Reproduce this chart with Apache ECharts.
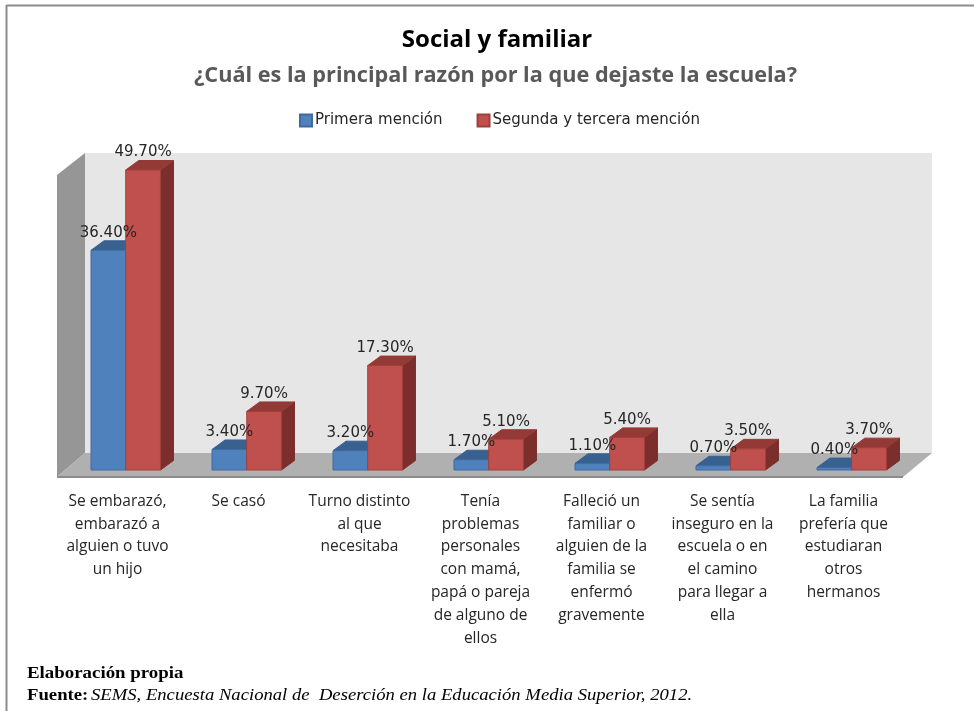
<!DOCTYPE html>
<html>
<head>
<meta charset="utf-8">
<style>html,body{margin:0;padding:0;background:#fff}#c{width:974px;height:711px}</style>
<script src="https://cdn.jsdelivr.net/npm/echarts@6/dist/echarts.min.js"></script>
</head>
<body>
<div id="c"></div>
<script>
const categories = [
  "Se embarazó,\nembarazó a\nalguien o tuvo\nun hijo",
  "Se casó",
  "Turno distinto\nal que\nnecesitaba",
  "Tenía\nproblemas\npersonales\ncon mamá,\npapá o pareja\nde alguno de\nellos",
  "Falleció un\nfamiliar o\nalguien de la\nfamilia se\nenfermó\ngravemente",
  "Se sentía\ninseguro en la\nescuela o en\nel camino\npara llegar a\nella",
  "La familia\nprefería que\nestudiaran\notros\nhermanos"
];
const primera = [36.4, 3.4, 3.2, 1.7, 1.1, 0.7, 0.4];
const segunda = [49.7, 9.7, 17.3, 5.1, 5.4, 3.5, 3.7];
const seriesNames = ["Primera mención", "Segunda y tercera mención"];

const DEPTH_X = 13, DEPTH_Y = 9.5;

function barRenderer(startFrac, widthFrac, colors) {
  return function (params, api) {
    const cat = api.value(0), val = api.value(1);
    const top = api.coord([cat, val]);
    const base = api.coord([cat, 0]);
    const band = api.size([1, 0])[0];
    const x0 = top[0] + band * startFrac;
    const x1 = x0 + band * widthFrac;
    const yT = top[1], yB = base[1];
    const dx = DEPTH_X, dy = DEPTH_Y;
    return {
      type: 'group',
      children: [
        { type: 'polygon', shape: { points: [[x1, yT], [x1 + dx, yT - dy], [x1 + dx, yB - dy], [x1, yB]] },
          style: { fill: colors.side, stroke: colors.side, lineWidth: 1 } },
        { type: 'polygon', shape: { points: [[x0, yT], [x0 + dx, yT - dy], [x1 + dx, yT - dy], [x1, yT]] },
          style: { fill: colors.top, stroke: colors.top, lineWidth: 1 } },
        { type: 'rect', shape: { x: x0, y: yT, width: x1 - x0, height: yB - yT },
          style: { fill: colors.front, stroke: colors.edge, lineWidth: 1 } }
      ]
    };
  };
}
function labelRenderer(startFrac, widthFrac) {
  return function (params, api) {
    const cat = api.value(0), val = api.value(1);
    const top = api.coord([cat, val]);
    const band = api.size([1, 0])[0];
    return {
      type: 'text',
      style: {
        x: top[0] + band * (startFrac + widthFrac / 2),
        y: top[1] - 17.5,
        text: val.toFixed(2) + '%',
        align: 'center', verticalAlign: 'middle',
        font: '15px "DejaVu Sans"', fill: '#262626'
      }
    };
  };
}
const blue = { front: '#4f81bd', edge: '#3f6b9f', side: '#2f4f7a', top: '#38618f' };
const red  = { front: '#c0504d', edge: '#a23f3c', side: '#7b2e2c', top: '#933a37' };
const BLUE_START = -0.219, BAR_W = 0.287, RED_START = 0.068;

const chart = echarts.init(document.getElementById('c'), null, { renderer: 'canvas' });
chart.setOption({
  animation: false,
  backgroundColor: '#ffffff',
  title: [
    { text: 'Social y familiar', left: 492, textAlign: 'center', top: 23,
      textStyle: { fontFamily: 'Open Sans', fontWeight: 'bold', fontSize: 24, color: '#000' } },
    { text: '¿Cuál es la principal razón por la que dejaste la escuela?', left: 490.5, textAlign: 'center', top: 60,
      textStyle: { fontFamily: 'Open Sans', fontWeight: 'bold', fontSize: 21.7, color: '#595959' } }
  ],
  legend: {
    data: seriesNames, left: 294, top: 108, itemWidth: 12, itemHeight: 12, itemGap: 34, icon: 'rect',
    textStyle: { fontFamily: 'DejaVu Sans', fontSize: 15, color: '#262626', padding: [0, 0, 0, -2] }
  },
  grid: { left: 57, width: 847, top: 168.2, height: 301.8 },
  xAxis: {
    type: 'category', data: categories,
    axisLine: { show: false }, axisTick: { show: false },
    axisLabel: { interval: 0, margin: 20, fontFamily: 'Open Sans', fontSize: 15.5, lineHeight: 22.8, color: '#262626', verticalAlign: 'top' }
  },
  yAxis: { type: 'value', min: 0, max: 50, show: false },
  graphic: [
    { type: 'rect', z: 0, shape: { x: 85, y: 153, width: 847, height: 300 }, style: { fill: '#e6e6e6' } },
    { type: 'polygon', z: 0, shape: { points: [[57, 175], [85, 153], [85, 453], [57, 477]] }, style: { fill: '#969696' } },
    { type: 'polygon', z: 0, shape: { points: [[57, 477], [85, 453], [932, 453], [903, 477]] }, style: { fill: '#b0b0b0' } },
    { type: 'line', z: 0, shape: { x1: 57, y1: 477, x2: 903, y2: 477 }, style: { stroke: '#8c8c8c', lineWidth: 2 } },
    { type: 'line', z: 0, shape: { x1: 6.5, y1: 5.5, x2: 974, y2: 5.5 }, style: { stroke: '#8c8c8c', lineWidth: 2 } },
    { type: 'line', z: 0, shape: { x1: 6.5, y1: 5, x2: 6.5, y2: 711 }, style: { stroke: '#8c8c8c', lineWidth: 2 } },
    { type: 'text', z: 5, x: 27, y: 674, scaleX: 1.18, style: { x: 0, y: 0, text: 'Elaboración propia', verticalAlign: 'middle', font: 'bold 16px "Liberation Serif"', fill: '#000' } },
    { type: 'text', z: 5, x: 27, y: 696, scaleX: 1.17, style: { x: 0, y: 0, text: 'Fuente:', verticalAlign: 'middle', font: 'bold 16px "Liberation Serif"', fill: '#000' } },
    { type: 'text', z: 5, x: 91, y: 696, scaleX: 1.097, style: { x: 0, y: 0, verticalAlign: 'middle',
        text: 'SEMS, Encuesta Nacional de  Deserción en la Educación Media Superior, 2012.',
        font: 'italic 17px "Liberation Serif"', fill: '#000' } }
  ],
  series: [
    { name: seriesNames[0], type: 'custom', z: 2, data: primera.map((v, i) => [i, v]), encode: { x: 0, y: 1 },
      itemStyle: { color: blue.front, borderColor: blue.edge, borderWidth: 1 },
      renderItem: barRenderer(BLUE_START, BAR_W, blue) },
    { name: seriesNames[1], type: 'custom', z: 3, data: segunda.map((v, i) => [i, v]), encode: { x: 0, y: 1 },
      itemStyle: { color: red.front, borderColor: red.edge, borderWidth: 1 },
      renderItem: barRenderer(RED_START, BAR_W, red) },
    { name: 'lab1', type: 'custom', z: 6, data: primera.map((v, i) => [i, v]), encode: { x: 0, y: 1 },
      renderItem: labelRenderer(BLUE_START, BAR_W) },
    { name: 'lab2', type: 'custom', z: 6, data: segunda.map((v, i) => [i, v]), encode: { x: 0, y: 1 },
      renderItem: labelRenderer(RED_START, BAR_W) }
  ]
});
</script>
</body>
</html>
